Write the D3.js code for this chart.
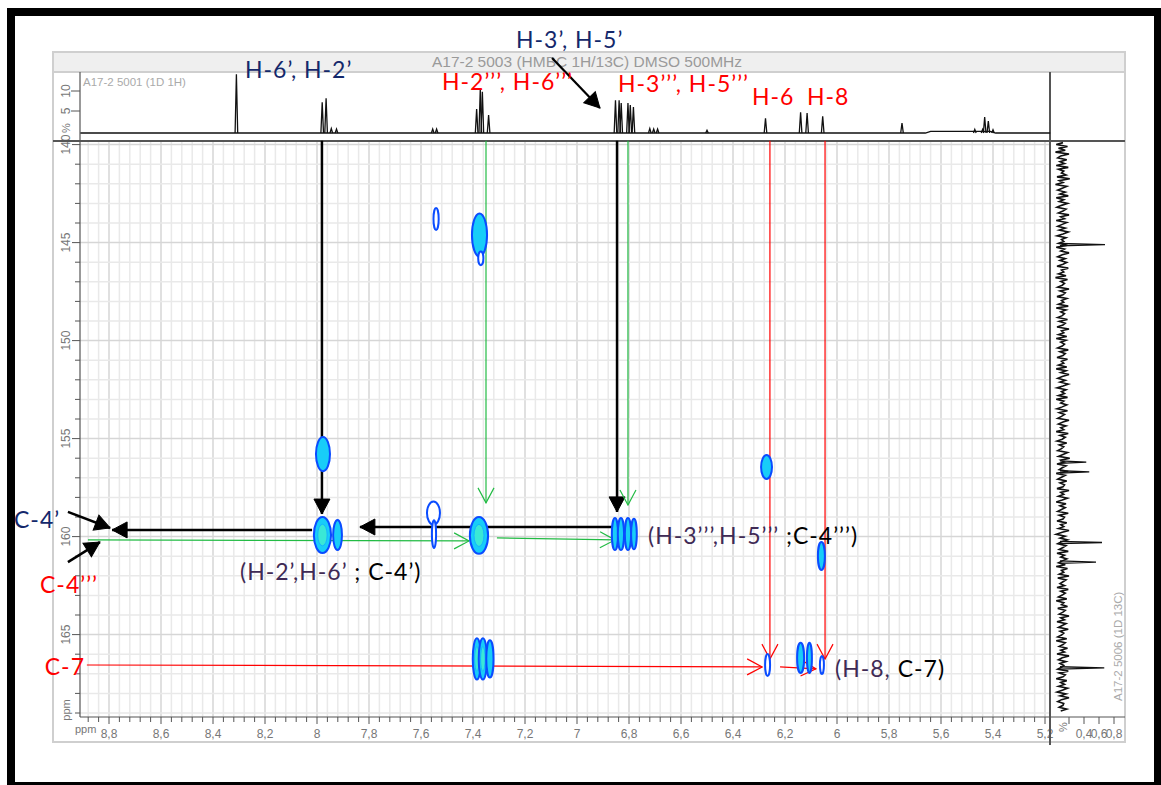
<!DOCTYPE html>
<html>
<head>
<meta charset="utf-8">
<script src="https://cdn.jsdelivr.net/npm/d3@7"></script>
<style>
body{margin:0;background:#fff;}
svg text{font-family:"Liberation Sans",Arial,sans-serif;}
.lbl{font-family:Lato,"Open Sans",sans-serif;font-size:23px;letter-spacing:1px;}
</style>
</head>
<body>
<svg width="1161" height="785"></svg>
<script>
// 1D 1H projection : [ppm, intensity %]
const h1Peaks=[[8.31,14.2],[7.980,7.2],[7.965,8.2],[7.945,0.6],[7.925,0.5],[7.555,0.5],[7.540,0.5],
  [7.386,5.5],[7.372,10.5],[7.364,9.8],[7.340,4.0],[6.852,7.7],[6.838,7.7],[6.830,7.0],[6.804,7.0],
  [6.795,6.5],[6.783,6.0],[6.720,0.6],[6.705,0.5],[6.690,0.5],[6.500,0.2],[6.275,3.2],[6.140,4.7],
  [6.115,4.5],[6.055,3.7],[5.750,2.0],[5.470,0.4],[5.440,0.4],[5.432,3.5],[5.418,2.5],[5.400,0.3]];
const h1Base=[[8.91,-0.5],[5.66,-0.5],[5.64,-0.1],[5.41,-0.1],[5.39,-0.5],[5.18,-0.5]];

// 1D 13C projection : noise level along the axis + real peaks [ppm, intensity]
const c13Noise=[
 .12,.03,.18,.06,.15,.02,.2,.09,.05,.17,.08,.14,.03,.19,.06,.13,.1,.16,.04,.21,
 .07,.12,.02,.17,.11,.05,.15,.08,.19,.03,.13,.07,.18,.1,.04,.16,.12,.06,.2,.09,
 .14,.03,.17,.11,.05,.15,.07,.19,.12,.04,.16,.1,.13,.06,.18,.03,.14,.09,.2,.11,
 .05,.15,.08,.17,.12,.04,.19,.1,.13,.06,.16,.02,.18,.09,.14,.11,.05,.2,.08,.15,
 .12,.04,.17,.1,.13,.06,.19,.03,.16,.09,.14,.11,.05,.18,.07,.15,.12,.04,.2,.1,
 .13,.06,.17,.03,.16,.09,.14,.11,.05,.19,.08,.15,.12,.04,.18,.1,.13,.06,.17,.03,
 .16,.09,.2,.11,.05,.15,.08,.19,.12,.04,.16,.1,.14,.06,.18,.03,.13,.09,.17,.11,
 .04,.18,.07,.14,.1,.05,.2,.12,.06,.16,.09,.13,.03,.19,.08,.15,.11,.04,.17,.07,
 .13,.1,.05,.18,.12,.06,.21,.09,.14,.04,.16,.11,.07,.19,.03,.15,.1,.05,.17,.08,
 .14,.12,.04,.2,.09,.13,.06,.18,.11,.03,.16,.08,.15,.1,.05,.19,.07,.14,.12,.04,
 .17,.09,.13,.06,.2,.11,.03,.15,.08,.18,.1,.05,.16,.12,.07,.19,.04,.14,.09,.17,
 .11,.06,.15,.03,.18,.1,.13,.07,.2,.05,.16,.12,.08,.14,.04,.19,.09,.15,.11,.06,
 .17,.03,.13,.1,.18,.05,.15,.12,.07,.2,.09,.14,.04,.16,.11,.06,.19,.08,.13,.1,
 .05,.17,.03,.15,.12,.07,.18,.09,.14,.04,.2,.11,.06,.16,.08,.13,.1,.05,.19,.07,
 .15,.12,.03,.17,.09,.14,.06,.18,.11,.04,.16,.08,.2,.1,.05,.13,.12,.07,.17,.09];
const c13Peaks=[[145.1,0.68],[156.2,0.43],[156.7,0.47],[160.3,0.64],[161.3,0.56],[166.7,0.67]];

// HMBC cross peaks : [1H ppm, 13C ppm, half-width 1H, half-width 13C, level]
const crossPeaks=[
 [7.542,143.80,0.010,0.56,1],
 [7.375,144.61,0.029,1.10,2],
 [7.370,145.80,0.010,0.35,1],
 [7.977,155.79,0.027,0.87,2],
 [6.271,156.45,0.021,0.61,2],
 [7.979,159.92,0.033,0.92,3],
 [7.921,159.92,0.017,0.77,2],
 [7.552,158.80,0.025,0.59,1],
 [7.550,159.87,0.008,0.71,1],
 [7.377,159.94,0.035,0.94,3],
 [6.854,159.87,0.012,0.82,2],
 [6.831,159.87,0.012,0.82,2],
 [6.804,159.87,0.012,0.82,2],
 [6.781,159.87,0.011,0.78,2],
 [6.060,160.99,0.0135,0.71,2],
 [7.385,166.24,0.016,1.05,3],
 [7.362,166.24,0.016,1.05,3],
 [7.335,166.24,0.014,0.95,2],
 [6.267,166.55,0.0096,0.56,1],
 [6.140,166.19,0.0135,0.77,2],
 [6.106,166.19,0.0096,0.77,2],
 [6.058,166.55,0.0077,0.46,1]
];

// correlation arrows : [h1, c1, h2, c2, colour]
const arrows=[
 [7.981,139.8,7.981,158.85,'black'],
 [6.846,139.8,6.846,158.74,'black'],
 [6.846,159.51,7.835,159.51,'black'],
 [8.019,159.66,8.788,159.66,'black'],
 [8.958,158.74,8.796,159.56,'black'],
 [8.958,161.30,8.835,160.28,'black'],
 [7.350,139.8,7.350,158.28,'green'],
 [6.804,139.8,6.804,158.39,'green'],
 [8.881,160.17,7.415,160.22,'green'],
 [7.308,160.07,6.854,160.17,'green'],
 [6.258,139.8,6.258,166.25,'red'],
 [6.046,139.8,6.046,166.25,'red'],
 [8.885,166.55,6.288,166.65,'red'],
 [6.219,166.65,6.081,166.75,'red']
];

const xTicks=d3.range(0,93).map(i=>+(8.88-i*0.04).toFixed(2));
const yTicks=d3.range(140,170);

const svg=d3.select('svg');
const L=80,R=1050,T=141,B=717;

const x=d3.scaleLinear().domain([8.8,5.2]).range([109,1045]);
const y=d3.scaleLinear().domain([140,165]).range([144.6,634.6]);
const yh=d3.scaleLinear().domain([0,10]).range([131,91]);
const xc=d3.scaleLinear().domain([0,0.8]).range([1054,1114]);

const fmt=v=>String(+v.toFixed(2)).replace('.',',');
const isMajor=v=>Math.abs(v*5-Math.round(v*5))<1e-6;

/******** frame + panel ********/
svg.append('rect').attr('x',11).attr('y',12).attr('width',1147).attr('height',774)
  .attr('fill','none').attr('stroke','#000').attr('stroke-width',8);
svg.append('rect').attr('x',53).attr('y',52).attr('width',1072).attr('height',690)
  .attr('fill','#fff').attr('stroke','#cfcfcf').attr('stroke-width',2);
svg.append('rect').attr('x',53).attr('y',52).attr('width',1072).attr('height',20)
  .attr('fill','#efefef').attr('stroke','#cfcfcf').attr('stroke-width',2);
svg.append('text').attr('x',587).attr('y',67).attr('text-anchor','middle')
  .attr('fill','#9a9a9a').style('font-size','15.5px').text('A17-2 5003 (HMBC 1H/13C) DMSO 500MHz');

const defs=svg.append('defs');
defs.append('clipPath').attr('id','clip').append('rect')
  .attr('x',L).attr('y',T).attr('width',R-L).attr('height',B-T);
const mk=(id,col,filled)=>defs.append('marker').attr('id',id)
  .attr('viewBox','-1 -1 17 18').attr('refX',15).attr('refY',8)
  .attr('markerWidth',17).attr('markerHeight',18).attr('markerUnits','userSpaceOnUse')
  .attr('orient','auto')
  .append('path').attr('d',filled?'M0,0L15,8L0,16Z':'M0,0L15,8L0,16')
  .attr('fill',filled?col:'none').attr('stroke',col).attr('stroke-width',filled?1:1.2);
mk('ah-black','#000',true);
mk('ah-red','#ff0000',false);
mk('ah-green','#22bb44',false);

/******** grid ********/
const grid=svg.append('g').attr('clip-path','url(#clip)');
grid.selectAll('.vg').data(xTicks).enter().append('line')
  .attr('x1',d=>x(d)).attr('x2',d=>x(d)).attr('y1',T).attr('y2',B)
  .attr('stroke',d=>isMajor(d)?'#d6d6d6':'#e9e9e9').attr('stroke-width',1.5);
grid.selectAll('.hg').data(yTicks).enter().append('line')
  .attr('x1',L).attr('x2',R).attr('y1',d=>y(d)).attr('y2',d=>y(d))
  .attr('stroke',d=>d%5===0?'#d6d6d6':'#e9e9e9').attr('stroke-width',1.5);

/******** axes ********/
const ax=svg.append('g').attr('stroke','#555');
ax.append('line').attr('x1',L).attr('x2',R).attr('y1',B).attr('y2',B).attr('stroke-width',1.2);
ax.append('line').attr('x1',L).attr('x2',L).attr('y1',72).attr('y2',B).attr('stroke-width',1.2);
ax.selectAll('.xt').data(xTicks).enter().append('line')
  .attr('x1',d=>x(d)).attr('x2',d=>x(d)).attr('y1',B).attr('y2',d=>isMajor(d)?B+7:B+5);
ax.selectAll('.yt').data(yTicks).enter().append('line')
  .attr('y1',d=>y(d)).attr('y2',d=>y(d)).attr('x1',L).attr('x2',d=>d%5===0?L-8:L-5);
svg.selectAll('.xl').data(xTicks.filter(isMajor)).enter().append('text')
  .attr('x',d=>x(d)).attr('y',738).attr('text-anchor','middle')
  .attr('fill','#777').style('font-size','12px').text(fmt);
svg.append('text').attr('x',75).attr('y',733).attr('fill','#777').style('font-size','11px').text('ppm');
svg.selectAll('.yl').data(yTicks.filter(d=>d%5===0)).enter().append('text')
  .attr('transform',d=>`translate(66,${y(d)}) rotate(-90)`).attr('text-anchor','middle')
  .attr('dy','0.35em').attr('fill','#777').style('font-size','12px').text(d=>d);
svg.append('text').attr('transform','translate(66,710) rotate(-90)').attr('text-anchor','middle')
  .attr('dy','0.35em').attr('fill','#777').style('font-size','11px').text('ppm');

// separators
svg.append('line').attr('x1',53).attr('x2',1125).attr('y1',T).attr('y2',T).attr('stroke','#555').attr('stroke-width',2);
svg.append('line').attr('x1',R).attr('x2',R).attr('y1',72).attr('y2',745).attr('stroke','#555').attr('stroke-width',2);

/******** 1H projection (top) ********/
const hy=svg.append('g');
[10,5].forEach(v=>{
  hy.append('line').attr('x1',L).attr('x2',L-9).attr('y1',yh(v)).attr('y2',yh(v)).attr('stroke','#555');
  hy.append('text').attr('transform',`translate(66,${yh(v)}) rotate(-90)`).attr('text-anchor','middle')
    .attr('dy','0.35em').attr('fill','#777').style('font-size','12px').text(v);
});
hy.append('text').attr('transform',`translate(66,128) rotate(-90)`).attr('text-anchor','middle')
  .attr('dy','0.35em').attr('fill','#777').style('font-size','11px').text('%');
svg.append('text').attr('x',83).attr('y',86).attr('fill','#aaa').style('font-size','11.5px').text('A17-2 5001 (1D 1H)');

const lineH=d3.line().x(d=>x(d[0])).y(d=>yh(d[1]));
svg.append('path').attr('d',lineH(h1Base)).attr('fill','none').attr('stroke','#111').attr('stroke-width',1.3);
svg.selectAll('.hp').data(h1Peaks).enter().append('path')
  .attr('d',d=>lineH([[d[0]+0.005,-0.5],[d[0],d[1]],[d[0]-0.005,-0.5]]))
  .attr('fill','none').attr('stroke','#111').attr('stroke-width',1.3);

/******** 13C projection (right) ********/
const step=(168.9-139.9)/(c13Noise.length-1);
const lineC=d3.line().x(d=>xc(d[1])).y(d=>y(d[0]));
svg.append('path').attr('d',lineC(c13Noise.map((v,i)=>[139.9+i*step,v])))
  .attr('fill','none').attr('stroke','#111').attr('stroke-width',1.6);
svg.selectAll('.cp13').data(c13Peaks).enter().append('path')
  .attr('d',d=>lineC([[d[0]-0.06,0.08],[d[0],d[1]],[d[0]+0.06,0.08]]))
  .attr('fill','none').attr('stroke','#111').attr('stroke-width',1.3);
svg.append('line').attr('x1',R).attr('x2',1125).attr('y1',B).attr('y2',B).attr('stroke','#555');
[0.2,0.4,0.6,0.8].forEach(v=>svg.append('line').attr('x1',xc(v)).attr('x2',xc(v))
  .attr('y1',B).attr('y2',B+7).attr('stroke','#555'));
[0.4,0.6,0.8].forEach(v=>svg.append('text').attr('x',xc(v)).attr('y',738)
  .attr('text-anchor','middle').attr('fill','#777').style('font-size','12px').text(fmt(v)));
svg.append('text').attr('transform','translate(1063,727) rotate(-90)').attr('text-anchor','middle')
  .attr('dy','0.35em').attr('fill','#777').style('font-size','11px').text('%');
svg.append('text').attr('transform','translate(1122,701) rotate(-90)').attr('fill','#aaa')
  .style('font-size','11.5px').text('A17-2 5006 (1D 13C)');

/******** arrows (under the contours) ********/
svg.selectAll('.arr').data(arrows).enter().append('line')
  .attr('x1',d=>x(d[0])).attr('y1',d=>y(d[1])).attr('x2',d=>x(d[2])).attr('y2',d=>y(d[3]))
  .attr('stroke',d=>d[4]==='black'?'#000':d[4]==='red'?'#ff0000':'#22bb44')
  .attr('stroke-width',d=>d[4]==='black'?2.5:1.2)
  .attr('marker-end',d=>`url(#ah-${d[4]})`);
// H-3', H-5' pointer in the 1H panel
svg.append('line').attr('x1',x(7.096)).attr('y1',58).attr('x2',x(6.912)).attr('y2',108)
  .attr('stroke','#000').attr('stroke-width',2.2).attr('marker-end','url(#ah-black)');

/******** cross peaks ********/
const cp=svg.append('g').attr('clip-path','url(#clip)');
crossPeaks.forEach(d=>{
  const cx=x(d[0]),cy=y(d[1]);
  const rx=Math.abs(x(d[0]+d[2])-cx),ry=Math.abs(y(d[1]+d[3])-cy);
  cp.append('ellipse').attr('cx',cx).attr('cy',cy).attr('rx',rx).attr('ry',ry)
    .attr('fill',d[4]>1?'#18cdf8':'#fff').attr('stroke','#0a4cff').attr('stroke-width',2);
  if(d[4]>2){
    cp.append('ellipse').attr('cx',cx).attr('cy',cy).attr('rx',rx*0.55).attr('ry',ry*0.6)
      .attr('fill','#3ae8d6').attr('stroke','#14b4ff').attr('stroke-width',1);
  }
});

/******** labels ********/
const navy='#14286b',red='#ff0000',purple='#3f2a55';
const lab=(txt,xx,yy,col,anchor)=>svg.append('text').attr('class','lbl')
  .attr('x',xx).attr('y',yy).attr('fill',col).attr('text-anchor',anchor||'start').text(txt);
lab('H-6’, H-2’',245,78,navy);
lab('H-3’, H-5’',516,48,navy);
lab('H-2’’’, H-6’’’',442,90,red);
lab('H-3’’’, H-5’’’',618,92,red);
lab('H-6',752,105,red);
lab('H-8',807,105,red);
lab('C-4’',14,528,navy);
lab('C-4’’’',40,593,red);
lab('C-7',85,675,red,'end');

const pair=(a,b,xx,yy)=>{
  const t=svg.append('text').attr('class','lbl').attr('x',xx).attr('y',yy);
  t.append('tspan').attr('fill',purple).text(a);
  t.append('tspan').attr('fill','#000').text(b);
};
pair('(H-2’,H-6’',' ; C-4’)',240,580);
pair('(H-3’’’,H-5’’’',' ;C-4’’’)',648,544);
pair('(H-8,',' C-7)',835,677);
</script>
</body>
</html>
